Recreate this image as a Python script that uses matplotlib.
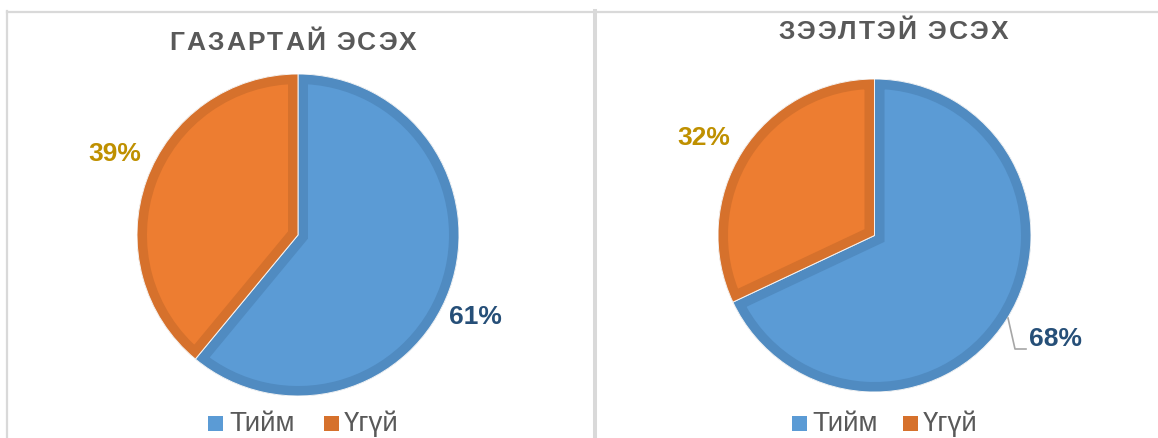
import matplotlib
matplotlib.use("Agg")
import matplotlib.pyplot as plt
from matplotlib.patches import Wedge, Rectangle
from matplotlib.lines import Line2D
from matplotlib.textpath import TextPath
from matplotlib.font_manager import FontProperties

plt.rcParams['font.family'] = ['Liberation Sans', 'DejaVu Sans']

titles = ["ГАЗАРТАЙ ЭСЭХ", "ЗЭЭЛТЭЙ ЭСЭХ"]
categories = ["Тийм", "Үгүй"]
values_land = [61, 39]
values_loan = [68, 32]

W, H = 1158, 439
fig = plt.figure(figsize=(W / 100, H / 100), dpi=100)
fig.patch.set_facecolor("white")

face = ["#5B9BD5", "#ED7D31"]
dark = ["#508BC1", "#D6712C"]
label_col = ["#264F78", "#BF9000"]
txt_gray = "#595959"
border = "#D9D9D9"


def fx(x):
    return x / W


def fy(y):
    return 1 - y / H


# panel borders
fig.add_artist(Line2D([fx(7), fx(7)], [fy(12), fy(440)], color=border, lw=1.6))
fig.add_artist(Line2D([fx(7), fx(1160)], [fy(12.5), fy(12.5)], color=border, lw=1.6))
fig.add_artist(Line2D([fx(595.3), fx(595.3)], [fy(12), fy(440)], color=border, lw=2.9))

title_fp = FontProperties(family="Liberation Sans", weight="bold", size=19)


def spaced_title(cx, cy, s, spacing_px):
    # pixel size of font: 19pt at 100 dpi
    px_scale = 100 / 72
    widths = []
    for ch in s:
        if ch == " ":
            w = TextPath((0, 0), "a a", prop=title_fp).get_extents().width - \
                TextPath((0, 0), "aa", prop=title_fp).get_extents().width
        else:
            w = TextPath((0, 0), "|" + ch + "|", prop=title_fp).get_extents().width - \
                TextPath((0, 0), "||", prop=title_fp).get_extents().width
        widths.append(w * px_scale)
    total = sum(widths) + spacing_px * (len(s) - 1)
    x = cx - total / 2
    for ch, w in zip(s, widths):
        if ch != " ":
            fig.text(fx(x), fy(cy), ch, ha="left", va="center",
                     fontproperties=title_fp, color=txt_gray)
        x += w + spacing_px


def draw_pie(cx, cy, r, vals, title, tx, ty, lab_pos, leg):
    ax = fig.add_axes([fx(cx - r), fy(cy + r), 2 * r / W, 2 * r / H])
    ax.axis("off")
    wedges, _ = ax.pie(vals, startangle=90, counterclock=False, radius=1,
                       center=(0, 0), colors=face,
                       wedgeprops=dict(edgecolor="none"))
    ax.set_xlim(-1, 1)
    ax.set_ylim(-1, 1)
    ax.set_aspect("auto")
    bw = 20 * 72 / 100  # 10 px inner bevel
    for i, w in enumerate(wedges):
        b = Wedge(w.center, w.r, w.theta1, w.theta2, facecolor="none",
                  edgecolor=dark[i], lw=bw)
        ax.add_patch(b)
        b.set_clip_path(w)
        s = Wedge(w.center, w.r, w.theta1, w.theta2, facecolor="none",
                  edgecolor="#F4F4F4", lw=0.7)
        ax.add_patch(s)
    spaced_title(tx, ty, title, 2.0)
    for i, (lx, ly) in enumerate(lab_pos):
        fig.text(fx(lx), fy(ly), f"{vals[i]}%", ha="center", va="center",
                 fontsize=19, fontweight="bold", color=label_col[i])
    for i, (sx, tx2) in enumerate(leg):
        fig.add_artist(Rectangle((fx(sx), fy(432)), 15 / W, 15 / H,
                                 facecolor=face[i] if i == 0 else dark[i],
                                 edgecolor="none"))
        fig.text(fx(tx2), fy(424), categories[i], ha="left", va="center",
                 fontsize=20, color=txt_gray)
    return ax


draw_pie(298, 236, 161, values_land, titles[0], 293, 43,
         [(475.5, 317.5), (115, 154)], [(208, 229), (324, 344)])
draw_pie(874.5, 236.5, 156.5, values_loan, titles[1], 893, 32,
         [(1056, 339), (704, 138)], [(792, 812), (903, 923)])

# leader line for 68%
fig.add_artist(Line2D([fx(1008), fx(1015), fx(1026)], [fy(319), fy(350), fy(350)],
                      color="#A6A6A6", lw=1.2))

fig.savefig("out.png", dpi=100)
